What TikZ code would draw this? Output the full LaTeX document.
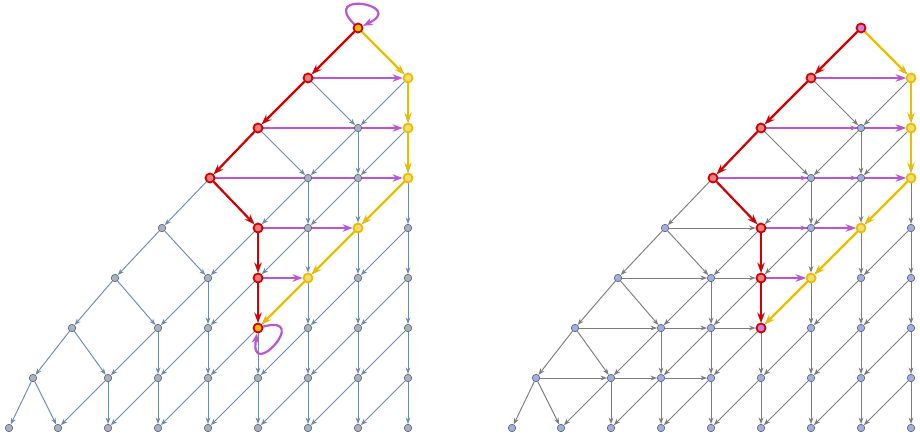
\documentclass[tikz,border=0pt]{standalone}
\usepackage{tikz}
\usetikzlibrary{positioning,arrows.meta,calc}
\pgfdeclarelayer{myback}
\pgfsetlayers{myback,main}

\definecolor{hlred}{HTML}{D20000}
\definecolor{hlyellow}{HTML}{E8BE00}
\definecolor{hlpurple}{HTML}{BA55D3}
\definecolor{ledge}{HTML}{6D89B0}
\definecolor{lnode}{HTML}{A8B2C6}
\definecolor{redge}{HTML}{7C7C7C}
\definecolor{rnode}{HTML}{9EAFE6}

\begin{document}
\begin{tikzpicture}[
  x=1pt, y=-1pt,
  >={Stealth[length=6.5pt,width=4.8pt]}, % 箭头样式
  vtx/.style={circle, inner sep=0pt, minimum size=7.5pt, draw=black!70, line width=0.5pt},
  Lvtx/.style={vtx, fill=lnode},
  Rvtx/.style={vtx, fill=rnode},
  redvtx/.style={minimum size=9pt, draw=hlred, line width=1.8pt, fill=hlred!50},
  yelvtx/.style={minimum size=9pt, draw=hlyellow, line width=1.8pt, fill=hlyellow!55},
  gedge/.style={->, line width=0.95pt},
  hledge/.style={-{Stealth[length=10pt,width=7.5pt]}, line width=2.2pt},
  % 高亮的节点
  hl/d0/.style={redvtx, fill=\ecol},
  hl/d1/.style=redvtx, hl/d2/.style=redvtx, hl/d3/.style=redvtx,
  hl/4-3/.style=redvtx, hl/5-3/.style=redvtx,
  hl/6-3/.style={redvtx, fill=\ecol},
  hl/1-0/.style=yelvtx, hl/2-0/.style=yelvtx, hl/3-0/.style=yelvtx,
  hl/4-1/.style=yelvtx, hl/5-2/.style=yelvtx
]
\useasboundingbox (0,0) rectangle (920,437);

% 节点: 左图 L, 右图 R
\foreach \p/\dx/\ecol in {L/0/hlyellow, R/503/hlpurple!75}{
  % 左边的斜列
  \foreach \r/\x in {0/358,1/308,2/258,3/210,4/162,5/115,6/72,7/33,8/9}
    \node (\p-d\r) [\p vtx, hl/d\r/.try] at (\x+\dx, 28+50*\r) {};
  % 网格
  \foreach \r in {1,...,8}{
    \pgfmathtruncatemacro\kmax{\r-1}
    \foreach \k in {0,...,\kmax}
      \node (\p-\r-\k) [\p vtx, hl/\r-\k/.try] at (408-50*\k+\dx, 28+50*\r) {};
  }
}

\begin{pgfonlayer}{myback}
% 普通的边
\foreach \p/\col in {L/ledge, R/redge}{
  \foreach \r in {0,...,7}{
    \pgfmathtruncatemacro\n{\r+1}
    \draw[gedge, \col] (\p-d\r) -- (\p-d\n);
    \draw[gedge, \col] (\p-d\r) -- (\p-\n-\r);
  }
  \foreach \r in {1,...,7}{
    \pgfmathtruncatemacro\n{\r+1}
    \pgfmathtruncatemacro\kmax{\r-1}
    \foreach \k in {0,...,\kmax}{
      \pgfmathtruncatemacro\kk{\k+1}
      \draw[gedge, \col] (\p-\r-\k) -- (\p-\n-\k);
      \draw[gedge, \col] (\p-\r-\k) -- (\p-\n-\kk);
    }
  }
}
% 右图的横向边
\foreach \r in {1,...,7}{
  \pgfmathtruncatemacro\ka{\r-1}
  \draw[gedge, redge] (R-d\r) -- (R-\r-\ka);
  \foreach \j in {1,2}{
    \pgfmathtruncatemacro\kf{\r-\j}
    \pgfmathtruncatemacro\kt{\r-\j-1}
    \ifnum\kt>-1 \draw[gedge, redge] (R-\r-\kf) -- (R-\r-\kt); \fi
  }
}
% 红, 黄, 紫
\foreach \p in {L,R}{
  \foreach \a/\b in {d0/d1, d1/d2, d2/d3, d3/4-3, 4-3/5-3, 5-3/6-3}
    \draw[hledge, hlred] (\p-\a) -- (\p-\b);
  \foreach \a/\b in {d0/1-0, 1-0/2-0, 2-0/3-0, 3-0/4-1, 4-1/5-2, 5-2/6-3}
    \draw[hledge, hlyellow] (\p-\a) -- (\p-\b);
  \foreach \a/\b in {d1/1-0, d2/2-0, d3/3-0, 4-3/4-1, 5-3/5-2}
    \draw[hledge, hlpurple] (\p-\a) -- (\p-\b);
}
% 自环 (y 轴向下, 角度取负)
\draw[hledge, hlpurple] (L-d0) .. controls +(-135:54) and +(-25:54) .. (L-d0);
\draw[hledge, hlpurple] (L-6-3) .. controls +(-15:56) and +(100:56) .. (L-6-3);
\end{pgfonlayer}
\end{tikzpicture}
\end{document}
